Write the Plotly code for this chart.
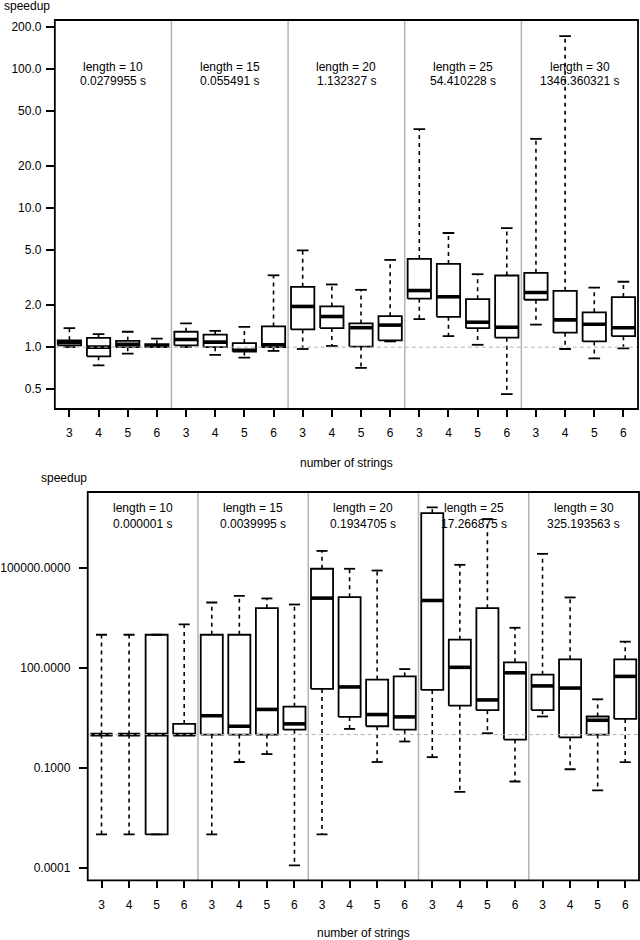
import plotly.graph_objects as go

# ---------------- data ----------------
lengths = [10, 15, 20, 25, 30]
n_strings = [3, 4, 5, 6]
top_times = ["0.0279955", "0.055491", "1.132327", "54.410228", "1346.360321"]
bot_times = ["0.000001", "0.0039995", "0.1934705", "17.266875", "325.193563"]

# top panel (group-major: length 10 n=3..6, length 15 n=3..6, ...)
top_lower = [1.00, 0.74, 0.90, 1.00, 1.00, 0.88, 0.84, 0.94, 0.97, 1.02, 0.71, 1.10,
             1.59, 1.20, 1.04, 0.46, 1.45, 0.97, 0.83, 0.98]
top_q1 = [1.03, 0.86, 1.00, 1.00, 1.03, 1.00, 0.93, 1.00, 1.34, 1.37, 1.01, 1.12,
          2.23, 1.65, 1.37, 1.17, 2.19, 1.27, 1.10, 1.20]
top_median = [1.08, 1.00, 1.05, 1.02, 1.135, 1.086, 0.95, 1.04, 1.96, 1.66, 1.38, 1.44,
              2.55, 2.30, 1.51, 1.39, 2.47, 1.57, 1.46, 1.38]
top_q3 = [1.12, 1.165, 1.11, 1.05, 1.29, 1.23, 1.07, 1.41, 2.71, 1.96, 1.48, 1.67,
          4.30, 3.96, 2.21, 3.27, 3.42, 2.54, 1.78, 2.29]
top_upper = [1.37, 1.24, 1.29, 1.15, 1.48, 1.31, 1.40, 3.28, 4.95, 2.82, 2.58, 4.23,
             36.8, 6.6, 3.34, 7.16, 31.3, 171.0, 2.68, 2.95]

# bottom panel
bot_lower = [0.001, 0.001, 0.001, 1.0, 0.001, 0.15, 0.26, 0.000118, 0.001, 1.48, 0.15, 0.62,
             0.21, 0.019, 1.1, 0.039, 3.5, 0.091, 0.021, 0.148]
bot_q1 = [1.0, 1.0, 0.001, 1.0, 1.0, 1.0, 1.0, 1.41, 23.5, 3.4, 1.78, 1.41,
          22.0, 7.4, 5.4, 0.71, 5.4, 0.83, 1.0, 2.96]
bot_median = [1.0, 1.0, 1.0, 1.0, 3.7, 1.78, 5.7, 2.1, 12600, 27, 4.0, 3.4,
              10700, 105, 11, 72, 29, 25, 2.7, 56]
bot_q3 = [1.0, 1.0, 1000, 2.09, 1000, 1000, 6300, 6.9, 96000, 13500, 45, 56,
          4.5e6, 710, 6300, 148, 63, 182, 3.5, 182]
bot_upper = [1000, 1000, 1000, 2040, 9300, 14800, 12300, 8100, 330000, 96000, 85000, 93,
             6.7e6, 126000, 3.0e6, 1620, 270000, 13200, 11.5, 620]

top_ytick_vals = [0.5, 1, 2, 5, 10, 20, 50, 100, 200]
top_ytick_text = ["0.5", "1.0", "2.0", "5.0", "10.0", "20.0", "50.0", "100.0", "200.0"]
bot_ytick_vals = [0.0001, 0.1, 100, 100000]
bot_ytick_text = ["0.0001", "0.1000", "100.0000", "100000.0000"]
baseline = 1.0

xlabel = "number of strings"
ylabel = "speedup"

# ---------------- style ----------------
FONT = "Liberation Sans, Arial, sans-serif"
FS = 12
BOXW = 0.4     # half box width
CAPW = 0.2     # half cap width
GRAY = "#b4b4b4"

positions = list(range(1, len(lengths) * len(n_strings) + 1))
xticktext = [str(n) for _ in lengths for n in n_strings]

fig = go.Figure()


def add_panel(lo, q1, med, q3, up, xa, ya):
    wx, wy, bx, by, mx, my, cx, cy = [], [], [], [], [], [], [], []
    for p, a, b, m, c, d in zip(positions, lo, q1, med, q3, up):
        # whiskers
        wx += [p, p, None, p, p, None]
        wy += [c, d, None, b, a, None]
        # box
        bx += [p - BOXW, p + BOXW, p + BOXW, p - BOXW, p - BOXW, None]
        by += [b, b, c, c, b, None]
        # median
        mx += [p - BOXW, p + BOXW, None]
        my += [m, m, None]
        # caps
        cx += [p - CAPW, p + CAPW, None, p - CAPW, p + CAPW, None]
        cy += [d, d, None, a, a, None]
    common = dict(xaxis=xa, yaxis=ya, mode="lines", hoverinfo="skip", showlegend=False)
    fig.add_trace(go.Scatter(x=wx, y=wy, line=dict(color="black", width=1.6, dash="4px,4px"),
                             connectgaps=False, **common))
    fig.add_trace(go.Scatter(x=bx, y=by, fill="toself", fillcolor="white",
                             line=dict(color="black", width=1.8), **common))
    fig.add_trace(go.Scatter(x=mx, y=my, line=dict(color="black", width=3.6), **common))
    fig.add_trace(go.Scatter(x=cx, y=cy, line=dict(color="black", width=1.8), **common))


add_panel(top_lower, top_q1, top_median, top_q3, top_upper, "x", "y")
add_panel(bot_lower, bot_q1, bot_median, bot_q3, bot_upper, "x2", "y2")

W, H = 640, 940
top_px = dict(l=53, r=638, t=20, b=409)
bot_px = dict(l=86, r=639, t=492, b=880.3)

axis_common = dict(showgrid=False, zeroline=False, showline=False, ticks="outside",
                   tickcolor="black", tickwidth=1.5, tickfont=dict(family=FONT, size=FS, color="black"))

fig.update_layout(
    width=W, height=H, margin=dict(l=0, r=0, t=0, b=0),
    paper_bgcolor="white", plot_bgcolor="white",
    font=dict(family=FONT, size=FS, color="black"),
    xaxis=dict(domain=[top_px["l"] / W, top_px["r"] / W], range=[0.5, 20.5], anchor="y",
               tickmode="array", tickvals=positions, ticktext=xticktext, ticklen=7,
               ticklabelstandoff=6, **axis_common),
    yaxis=dict(domain=[1 - top_px["b"] / H, 1 - top_px["t"] / H], type="log", anchor="x",
               range=[-0.444, 2.349], tickmode="array", tickvals=top_ytick_vals,
               ticktext=top_ytick_text, ticklen=8, ticklabelstandoff=2, **axis_common),
    xaxis2=dict(domain=[bot_px["l"] / W, bot_px["r"] / W], range=[0.5, 20.5], anchor="y2",
                tickmode="array", tickvals=positions, ticktext=xticktext, ticklen=7,
                ticklabelstandoff=6, **axis_common),
    yaxis2=dict(domain=[1 - bot_px["b"] / H, 1 - bot_px["t"] / H], type="log", anchor="x2",
                range=[-4.378, 7.289], tickmode="array", tickvals=bot_ytick_vals,
                ticktext=bot_ytick_text, ticklen=8, ticklabelstandoff=6, **axis_common),
)

shapes = []
annotations = []
ngroup = len(n_strings)
for xa, ya, times, l1y, l2y in [("x", "y", top_times, 66.7, 81.0), ("x2", "y2", bot_times, 507.7, 524.3)]:
    # group separators
    for g in range(1, len(lengths)):
        sep = g * ngroup + 0.5
        shapes.append(dict(type="line", xref=xa, yref=ya + " domain", x0=sep, x1=sep, y0=0, y1=1,
                           line=dict(color=GRAY, width=1.5), layer="below"))
    # baseline
    shapes.append(dict(type="line", xref=xa + " domain", yref=ya, x0=0, x1=1, y0=baseline, y1=baseline,
                       line=dict(color=GRAY, width=1, dash="4px,3px"), layer="above"))
    # frame
    shapes.append(dict(type="rect", xref=xa + " domain", yref=ya + " domain", x0=0, x1=1, y0=0, y1=1,
                       line=dict(color="black", width=1.8), layer="above"))
    for gi, (L, t) in enumerate(zip(lengths, times)):
        cx = gi * ngroup + (ngroup + 1) / 2
        annotations.append(dict(xref=xa, yref="paper", x=cx, y=1 - l1y / H, text=f"length = {L}",
                                showarrow=False, xanchor="center", yanchor="middle",
                                font=dict(family=FONT, size=FS, color="black")))
        annotations.append(dict(xref=xa, yref="paper", x=cx, y=1 - l2y / H, text=f"{t} s",
                                showarrow=False, xanchor="center", yanchor="middle",
                                font=dict(family=FONT, size=FS, color="black")))

for x, y, txt, anchor in [(0, 6.5, ylabel, "left"), (36.7, 478, ylabel, "left"),
                          (345.5, 462.7, xlabel, "center"), (363, 933, xlabel, "center")]:
    annotations.append(dict(xref="paper", yref="paper", x=x / W, y=1 - y / H, text=txt,
                            showarrow=False, xanchor=anchor, yanchor="middle",
                            font=dict(family=FONT, size=FS, color="black")))

fig.update_layout(shapes=shapes, annotations=annotations)
fig.write_html("out.html", config={"displayModeBar": False},
               post_script="document.body.style.margin='0';document.body.style.padding='0';")
